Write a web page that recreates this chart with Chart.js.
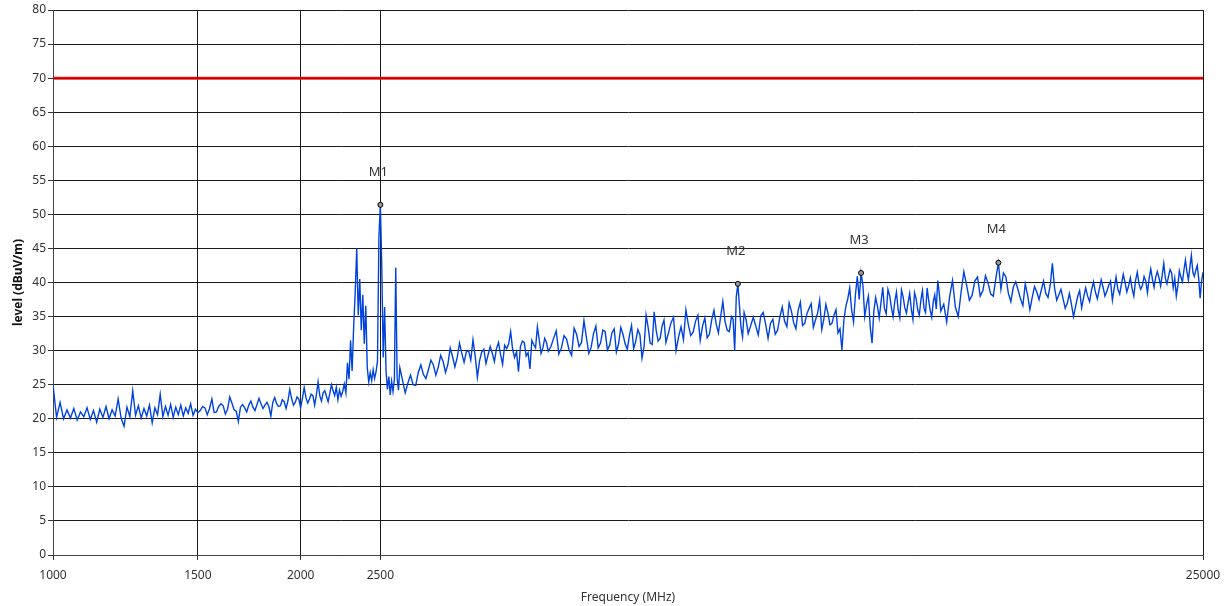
<!DOCTYPE html>
<html>
<head>
<meta charset="utf-8">
<script src="https://cdn.jsdelivr.net/npm/chart.js@4"></script>
<style>
  html, body { margin: 0; padding: 0; background: #fff; }
  #wrap { width: 1229px; height: 606px; }
</style>
</head>
<body>
<div id="wrap"><canvas id="grafico" width="1229" height="606"></canvas></div>
<script>
// sweep, split in pieces (MHz / dBuV/m)
const freqLow = [1000,1010,1020,1030,1040,1050,1060,1070,1080,1090,
  1100,1110,1120,1130,1140,1150,1160,1170,1180,1190,
  1200,1210,1220,1230,1240,1250,1260,1270,1280,1290,
  1300,1310,1320,1330,1340,1350,1360,1370,1380,1390,
  1400,1410,1420,1430,1440,1450,1460,1470,1480,1490,1500];
const levelLow = [25.0,20.2,22.4,20.0,21.3,20.1,21.5,19.8,21.0,20.3,
  21.6,19.9,21.2,19.5,21.4,20.2,21.8,20.0,21.3,20.4,
  22.9,20.1,18.9,21.7,20.3,24.1,20.5,21.9,20.1,21.5,
  20.4,22.0,19.4,21.6,20.6,23.6,20.3,21.8,20.5,22.1,
  20.2,21.7,20.6,22.0,20.4,21.6,20.8,22.2,20.5,21.4,20.9];

const freqRise = [1520,1540,1560,1580,1600,1620,1640,1660,1680,1700,
  1720,1740,1760,1780,1800,1820,1840,1860,1880,1900,
  1920,1940,1960,1980,2000,2020,2040,2060,2080,2100,
  2120,2140,2160,2180];
const levelRise = [21.8,20.6,22.9,21.0,22.2,20.7,23.2,21.3,19.6,22.1,
  21.0,22.6,21.2,23.0,21.5,22.4,20.4,23.1,21.8,22.8,
  21.5,24.3,22.0,23.2,21.6,24.6,22.3,23.6,22.0,25.4,
  22.6,24.1,22.5,25.0];
const freqRise2 = [1510,1530,1550,1570,1590,1610,1630,1650,1670,1690,
  1710,1730,1750,1770,1790,1810,1830,1850,1870,1890,
  1910,1930,1950,1970,1990,2010,2030,2050,2070,2090,
  2110,2130,2150,2170,2190];
const levelRise2 = [21.2,21.6,21.5,20.9,21.8,21.9,21.4,22.3,21.1,21.7,
  21.6,22.0,21.7,22.1,22.2,22.0,21.8,22.4,22.2,21.9,
  22.5,22.6,23.0,22.4,22.9,23.0,23.1,22.9,23.4,23.5,
  23.4,23.8,23.3,23.7,24.1];

const freqPeaks = [2200,2210,2220,2230,2240,2250,2260,2270,2280,2290,
  2300,2310,2320,2330,2340,2350,2360,2370,2380,2390,
  2400,2410,2420,2430,2440,2450,2460,2470,2480,2490,
  2500,2510,2520,2530,2540,2550,2560,2570,2580,2590,
  2600,2610,2620,2630,2640];
const levelPeaks = [23.4,24.6,22.8,24.2,23.3,24.0,25.1,23.8,28.2,25.8,
  31.5,27.0,33.5,38.5,45.0,35.2,40.5,33.0,38.2,31.0,
  36.6,27.5,25.4,26.8,25.6,27.2,25.9,26.9,28.5,46.7,
  51.4,42.3,29.0,36.4,27.0,24.3,26.2,23.5,25.5,24.0,
  25.8,42.2,26.0,24.2,27.5];

const freqMid = [2680,2720,2760,2800,2840,2880,2920,2960,3000,3040,
  3080,3120,3160,3200,3240,3280,3320,3360,3400,3440,
  3480,3520,3560,3600,3640,3680,3720,3760,3800,3840,
  3880,3920,3960,4000];
const levelMid = [23.8,26.4,24.9,27.9,25.9,28.6,26.4,29.3,26.8,30.4,
  27.6,31.1,28.3,30.0,31.6,26.1,29.8,28.1,30.6,28.4,
  31.2,28.0,30.3,32.8,29.0,26.9,31.4,29.2,27.3,30.9,
  33.5,29.6,31.8,29.9];
const freqMid2 = [2700,2740,2780,2820,2860,2900,2940,2980,3020,3060,
  3100,3140,3180,3220,3260,3300,3340,3380,3420,3460,
  3500,3540,3580,3620,3660,3700,3740,3780,3820,3860,
  3900,3940,3980];
const levelMid2 = [25.2,25.0,26.8,26.5,27.2,27.9,27.6,28.4,28.0,29.1,
  29.0,29.6,29.8,28.6,29.2,28.5,30.2,29.4,29.6,30.3,
  29.4,30.8,31.0,30.2,29.8,30.6,31.2,29.7,31.5,30.4,
  31.6,30.4,31.2];

const freqUpper = [4060,4120,4180,4240,4300,4360,4420,4480,4540,4600,
  4660,4720,4780,4840,4900,4960,5020,5080,5140,5200,
  5260,5320,5380,5440,5500,
  5560,5640,5720,5800,5880,5960,6040,6120,6200,6280,
  6360,6440,6520,6600,6680,
  6740,6800,6860,6920,7000];
const levelUpper = [31.8,29.5,32.2,30.1,33.3,30.6,34.4,29.6,32.5,30.4,
  33.0,30.1,32.6,29.8,33.4,31.0,32.2,30.3,33.1,28.9,
  35.2,31.1,35.7,31.4,33.6,
  31.2,34.1,30.0,33.5,36.0,32.2,34.3,31.5,34.8,32.4,
  35.9,32.6,37.2,33.0,35.0,
  30.0,39.8,33.4,35.6,32.5];
const freqUpper2 = [4030,4090,4150,4210,4270,4330,4390,4450,4510,4570,
  4630,4690,4750,4810,4870,4930,4990,5050,5110,5170,
  5230,5290,5350,5410,5470,5530,
  5600,5680,5760,5840,5920,6000,6080,6160,6240,6320,
  6400,6480,6560,6640,
  6710,6770,6830,6890,6960];
const levelUpper2 = [30.6,32.9,30.4,31.7,29.3,32.4,31.2,32.0,30.5,33.6,
  31.1,32.8,30.8,33.2,31.0,32.4,30.2,33.7,31.4,32.3,
  30.6,33.4,30.9,33.0,31.8,34.5,
  32.6,34.9,32.0,31.6,33.8,32.7,35.2,33.6,31.9,34.5,
  33.9,35.0,34.3,32.8,
  34.6,37.9,36.6,32.0,34.5];

const freqHigh = [7100,7200,7300,7400,7500,7600,7700,7800,7900,8000,
  8100,8200,8300,8400,8500,8600,8700,8800,8900,9000,
  9100,9200,9300,9400,9500,9600,9700,9800,9900,10000,
  10100,10200,10300,10400,10500,10600,10700,10800,10900,11000,
  11100,11200,11300,11400,11500,11600,11700,11800,11900,12000];
const levelHigh = [34.9,32.3,35.6,31.8,34.6,33.0,36.4,33.5,35.8,33.2,
  37.1,34.0,36.2,33.4,35.5,33.1,36.8,33.8,35.2,32.6,
  30.1,36.5,39.2,34.2,40.9,41.4,35.0,38.0,31.1,37.8,
  34.8,39.3,35.4,38.1,35.0,38.6,34.8,37.9,35.5,38.4,
  34.6,37.6,35.2,38.8,35.6,37.4,34.9,38.2,40.3,35.8];
const freqHigh2 = [7150,7250,7350,7450,7550,7650,7750,7850,7950,8050,
  8150,8250,8350,8450,8550,8650,8750,8850,8950,9050,
  9150,9250,9350,9450,9550,9650,9750,9850,9950,10050,
  10150,10250,10350,10450,10550,10650,10750,10850,10950,11050,
  11150,11250,11350,11450,11550,11650,11750,11850,11950];
const levelHigh2 = [33.6,35.1,33.9,34.0,32.4,35.0,34.3,37.0,34.1,35.9,
  33.7,35.4,36.9,34.5,37.4,34.6,35.5,34.0,36.0,33.2,
  34.5,37.6,36.0,38.2,37.5,39.6,36.8,33.5,35.8,36.5,
  37.0,36.2,39.0,36.4,37.2,36.0,38.9,36.3,37.0,36.1,
  38.5,36.0,37.4,36.2,39.2,35.9,37.2,36.1,38.4];

const freqTop = [12200,12400,12600,12800,13000,13200,13400,13600,13800,14000,
  14100,14200,14400,14600,14800,15000,15200,15400,15600,15800,
  16000,16200,16400,16600,16800,17000,17200,17400,17600,17800,
  18000,18200,18400,18600,18800,19000,19200,19400,19600,19800,
  20000,20200,20400,20600,20800,21000,21200,21400,21600,21800,
  22000,22200,22400,22600,22800,23000,23200,23400,23600,23800,
  24000,24200,24400,24600,24800,25000];
const levelTop = [34.2,40.3,35.0,41.6,37.4,40.2,38.0,41.0,38.3,40.6,
  42.9,39.0,40.8,37.2,40.1,37.6,39.8,36.0,39.4,37.5,
  40.2,37.8,42.8,37.4,39.0,36.2,38.4,35.0,37.9,36.3,
  39.2,37.2,40.1,37.6,40.4,38.0,39.6,37.4,40.8,38.3,
  41.2,38.6,40.7,38.0,41.5,39.0,40.9,38.5,42.0,39.3,
  41.6,39.5,42.8,39.8,41.9,39.2,38.0,41.7,40.1,43.3,
  40.4,44.0,40.9,42.5,37.7,41.5];
const freqTop2 = [12100,12300,12500,12700,12900,13100,13300,13500,13700,13900,
  14300,14500,14700,14900,15100,15300,15500,15700,15900,16100,
  16300,16500,16700,16900,17100,17300,17500,17700,17900,18100,
  18300,18500,18700,18900,19100,19300,19500,19700,19900,20100,
  20300,20500,20700,20900,21100,21300,21500,21700,21900,22100,
  22300,22500,22700,22900,23100,23300,23500,23700,23900,24100,
  24300,24500,24700,24900];
const levelTop2 = [36.8,37.9,36.4,38.5,39.6,38.1,40.8,38.8,39.9,38.0,
  41.4,38.4,39.3,38.9,36.6,38.2,37.8,38.6,38.9,38.4,
  39.6,39.2,38.2,37.6,37.0,36.8,36.5,38.8,37.8,38.0,
  38.9,38.6,39.0,39.3,38.7,40.2,39.2,39.0,39.8,40.0,
  39.5,39.1,40.3,39.8,39.6,40.2,40.6,40.5,40.8,40.7,
  41.0,40.6,40.9,41.4,40.6,39.5,40.8,41.8,41.6,42.3,
  41.5,41.8,40.6,40.2];

// markers M1..M4
const markerLabels = ["M1", "M2", "M3", "M4"];
const markerFreq = [2500, 6800, 9600, 14100];
const markerLevel = [51.4, 39.8, 41.4, 42.9];

// limit line and axis ticks
const limitLevel = 70;
const limitFreq = [1000, 25000];
const xTicks = [1000, 1500, 2000, 2500, 25000];

const fontName = '"Noto Sans", "DejaVu Sans", sans-serif';

// glue the pieces into x/y points
function toPoints(freqs, levels) {
  return freqs.map((f, i) => ({ x: f, y: levels[i] }));
}

// all pieces together, in frequency order
const trace = [].concat(
  toPoints(freqLow, levelLow),
  toPoints(freqRise, levelRise),
  toPoints(freqRise2, levelRise2),
  toPoints(freqPeaks, levelPeaks),
  toPoints(freqMid, levelMid),
  toPoints(freqMid2, levelMid2),
  toPoints(freqUpper, levelUpper),
  toPoints(freqUpper2, levelUpper2),
  toPoints(freqHigh, levelHigh),
  toPoints(freqHigh2, levelHigh2),
  toPoints(freqTop, levelTop),
  toPoints(freqTop2, levelTop2)
).sort((a, b) => a.x - b.x);

const limitPoints = limitFreq.map(f => ({ x: f, y: limitLevel }));

// writes the marker names above each marker point
const markerNames = {
  id: "markerNames",
  afterDatasetsDraw(chart) {
    const meta = chart.getDatasetMeta(3);
    const ctx = chart.ctx;
    ctx.save();
    ctx.font = "13px " + fontName;
    ctx.fillStyle = "#333";
    ctx.textAlign = "center";
    ctx.textBaseline = "middle";
    meta.data.forEach((pt, i) => {
      ctx.fillText(markerLabels[i], pt.x - 2, pt.y - 33);
    });
    ctx.restore();
  },
};

new Chart(document.getElementById("grafico"), {
  type: "line",
  data: {
    datasets: [
      {
        data: limitPoints,
        borderColor: "#ff1a1a",
        borderWidth: 3,
        pointRadius: 0,
        order: 3,
      },
      {
        data: limitPoints,
        borderColor: "#8a0000",
        borderWidth: 1,
        pointRadius: 0,
        order: 2,
      },
      {
        data: trace,
        borderColor: "#0043dc",
        borderWidth: 1.4,
        pointRadius: 0,
        tension: 0,
        order: 1,
      },
      {
        data: toPoints(markerFreq, markerLevel),
        showLine: false,
        pointRadius: 2.5,
        pointBorderWidth: 1,
        pointBorderColor: "#000",
        pointBackgroundColor: "#999",
        order: 0,
      },
    ],
  },
  options: {
    responsive: false,
    animation: false,
    devicePixelRatio: 1,
    layout: { padding: { top: 10, right: 26, left: 0, bottom: 0 } },
    plugins: {
      legend: { display: false },
      tooltip: { enabled: false },
    },
    scales: {
      x: {
        type: "logarithmic",
        min: 1000,
        max: 25000,
        afterBuildTicks: (scale) => {
          scale.ticks = xTicks.map(v => ({ value: v }));
        },
        afterFit: (scale) => { scale.height = 51; },
        ticks: {
          autoSkip: false,
          maxRotation: 0,
          padding: 8,
          color: "#333",
          font: { family: fontName, size: 12 },
          callback: (v) => String(v),
        },
        grid: { color: "#1a1a1a", tickColor: "#333", tickLength: 5 },
        border: { color: "#444" },
        title: {
          display: true,
          text: "Frequency (MHz)",
          color: "#333",
          font: { family: fontName, size: 12 },
          padding: { top: 0, bottom: 1 },
        },
      },
      y: {
        min: 0,
        max: 80,
        afterFit: (scale) => { scale.width = 53; },
        ticks: {
          stepSize: 5,
          padding: 2,
          color: "#333",
          font: { family: fontName, size: 12 },
        },
        grid: { color: "#1a1a1a", tickColor: "#333", tickLength: 5 },
        border: { color: "#444" },
        title: {
          display: true,
          text: "level (dBuV/m)",
          color: "#111",
          font: { family: fontName, size: 12, weight: "bold" },
          padding: { top: 11, bottom: 2 },
        },
      },
    },
  },
  plugins: [markerNames],
});
</script>
</body>
</html>
